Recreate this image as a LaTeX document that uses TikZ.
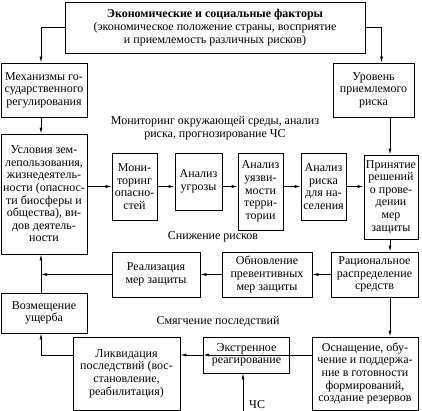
\documentclass[tikz,border=0pt]{standalone}
\usepackage{fontspec}
\setmainfont{Liberation Serif}
\usepackage{tikz}
\usetikzlibrary{calc}
\usetikzlibrary{arrows.meta}
\tikzset{
	box/.style={draw, line width=.8pt, align=center, inner sep=1pt, font=\fontsize{12}{12.6}\selectfont},
	caption/.style={align=center, inner sep=0pt, font=\fontsize{12}{13.5}\selectfont},
	link/.style={line width=.8pt, -{Latex[length=6pt,width=3pt]}},
}

\begin{document}
\begin{tikzpicture}[x=1pt,y=-1pt]
	\useasboundingbox (0,0) rectangle (422,411);
	\node[box, minimum width=300pt, minimum height=51pt, font=\fontsize{12}{13.3}\selectfont] (top) at (215,27.5) {\textbf{Экономические и социальные факторы}\\(экономическое положение страны, восприятие\\и приемлемость различных рисков)};
	\node[box, minimum width=86pt, minimum height=54pt] (mech) at (44,90) {Механизмы го-\\сударственного\\регулирования};
	\node[box, minimum width=81pt, minimum height=54pt] (level) at (373.5,90) {Уровень\\приемлемого\\риска};
	\node[box, minimum width=86pt, minimum height=120pt] (cond) at (44,194) {Условия зем-\\лепользования,\\жизнедеятель-\\ности (опаснос-\\ти биосферы и\\общества), ви-\\дов деятель-\\ности};
	\node[box, minimum width=45pt, minimum height=67pt] (mon) at (134.5,186.5) {Мони-\\торинг\\опасно-\\стей};
	\node[box, minimum width=47pt, minimum height=57pt] (threat) at (198.5,181.5) {Анализ\\угрозы};
	\node[box, minimum width=45pt, minimum height=77pt] (vuln) at (260.5,191.5) {Анализ\\уязви-\\мости\\терри-\\тории};
	\node[box, minimum width=45pt, minimum height=67pt] (risk) at (323.5,186.5) {Анализ\\риска\\для на-\\селения};
	\node[box, minimum width=54pt, minimum height=84pt] (dec) at (391,197) {Принятие\\решений\\о прове-\\дении\\мер\\защиты};
	\node[box, minimum width=88pt, minimum height=45pt] (real) at (156,274.5) {Реализация\\мер защиты};
	\node[box, minimum width=90pt, minimum height=45pt] (upd) at (267,274.5) {Обновление\\превентивных\\мер защиты};
	\node[box, minimum width=87pt, minimum height=45pt] (rat) at (374.5,274.5) {Рациональное\\распределение\\средств};
	\node[box, minimum width=86pt, minimum height=40pt] (comp) at (44,313) {Возмещение\\ущерба};
	\node[box, minimum width=107pt, minimum height=73pt] (liq) at (126.5,373.5) {Ликвидация\\последствий (вос-\\становление,\\реабилитация)};
	\node[box, minimum width=86pt, minimum height=36pt] (emerg) at (246.5,355) {Экстренное\\реагирование};
	\node[box, minimum width=106pt, minimum height=73pt] (equip) at (365,373.5) {Оснащение, обу-\\чение и поддержа-\\ние в готовности\\формирований,\\создание резервов};
	% section captions
	\node[caption] (monitext) at (215,128) {Мониторинг окружающей среды, анализ\\риска, прогнозирование ЧС};
	\node[caption] (reducetext) at (213,237) {Снижение рисков};
	\node[caption] (mitigtext) at (218,322) {Смягчение последствий};
	% columns of the vertical links
	\coordinate (lcol) at (41,0);
	\coordinate (rcol) at (390,0);
	\coordinate (cs) at (243,411);
	\node[caption, anchor=south west] (cslbl) at ($(cs)+(6,-2)$) {ЧС};
	\draw[link] (top.west) -| (lcol |- mech.north);
	\draw[link] (top.east) -| ([xshift=8pt]level.north);
	\draw[link] (lcol |- mech.south) -- (lcol |- cond.north);
	\draw[link] (rcol |- level.south) -- (rcol |- dec.north);
	\draw[link] (cond.east |- mon.west) -- (mon.west);
	\draw[link] (mon.east) -- (mon.east -| threat.west);
	\draw[link] (mon.east -| threat.east) -- (mon.east -| vuln.west);
	\draw[link] (mon.east -| vuln.east) -- (mon.east -| risk.west);
	\draw[link] (risk.east) -- (risk.east -| dec.west);
	\draw[link] (rcol |- dec.south) -- (rcol |- rat.north);
	\draw[link] (rat.west) -- (upd.east);
	\draw[link] (upd.west) -- (real.east);
	\draw[link] (real.west) -- (lcol |- real.west);
	\draw[link] (lcol |- comp.north) -- (lcol |- cond.south);
	\draw[link] (rcol |- rat.south) -- (rcol |- equip.north);
	\draw[link] (equip.west |- emerg.west) -- (emerg.west);
	\draw[link] (emerg.west) -- (emerg.west -| liq.east);
	\draw[link] (liq.west |- emerg.west) -| (lcol |- comp.south);
	\draw[link] (cs) -- (cs |- emerg.south);
\end{tikzpicture}
\end{document}
